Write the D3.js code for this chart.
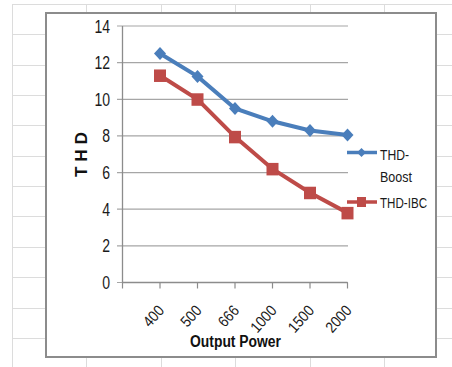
<!DOCTYPE html>
<html><head><meta charset="utf-8">
<script src="https://cdn.jsdelivr.net/npm/d3@7"></script>
<style>body{margin:0;background:#fff;}svg{display:block;}text{font-family:"Liberation Sans",Arial,sans-serif;}</style>
</head><body>
<svg id="c" width="452" height="367"></svg>
<script>
const categories = ["400","500","666","1000","1500","2000"];
const boost = [12.5, 11.25, 9.5, 8.8, 8.3, 8.05];
const ibc = [11.3, 10.0, 7.95, 6.2, 4.9, 3.8];
const yTicks = [0,2,4,6,8,10,12,14];
const seriesNames = ["THD-Boost","THD-IBC"];
const xTitle = "Output Power";
const yTitle = "T H D";

const svg = d3.select("#c");
const W = 452, H = 367;

// spreadsheet background grid
const bg = svg.append("g").attr("stroke","#dcdcdc").attr("stroke-width",1);
d3.range(6).forEach(i=>{
  const x = Math.round(12 + i*74.4)+0.5;
  bg.append("line").attr("x1",x).attr("x2",x).attr("y1",4).attr("y2",H);
});
d3.range(12).forEach(i=>{
  const y = Math.round(4 + i*30.35)+0.5;
  bg.append("line").attr("x1",12).attr("x2",W).attr("y1",y).attr("y2",y);
});

// chart area
svg.append("rect").attr("x",46).attr("y",13).attr("width",390).attr("height",344)
  .attr("fill","#fff").attr("stroke","#8c8c8c").attr("stroke-width",2);

const x = d3.scaleLinear().domain([0, categories.length]).range([122.5, 347.5]);
const y = d3.scaleLinear().domain([0,14]).range([282.5, 26]);

// gridlines + y ticks
const grid = svg.append("g");
yTicks.forEach(t=>{
  grid.append("line").attr("x1",117).attr("x2",348).attr("y1",y(t)).attr("y2",y(t))
    .attr("stroke","#a6a6a6").attr("stroke-width",1.2);
  grid.append("text").attr("x",110).attr("y",y(t)+6.5).attr("text-anchor","end")
    .attr("font-size",18).attr("fill","#1a1a1a")
    .attr("textLength",String(t).length*7.8).attr("lengthAdjust","spacingAndGlyphs").text(t);
});
// y axis line
svg.append("line").attr("x1",x(0)).attr("x2",x(0)).attr("y1",y(14)).attr("y2",y(0))
  .attr("stroke","#8c8c8c").attr("stroke-width",1.3);
// x axis line
svg.append("line").attr("x1",x(0)).attr("x2",x(categories.length)).attr("y1",y(0)).attr("y2",y(0))
  .attr("stroke","#8c8c8c").attr("stroke-width",1.3);
d3.range(categories.length+1).forEach(i=>{
  svg.append("line").attr("x1",x(i)).attr("x2",x(i)).attr("y1",y(0)).attr("y2",y(0)+6)
    .attr("stroke","#8c8c8c").attr("stroke-width",1.2);
});
// x tick labels
categories.forEach((c,i)=>{
  svg.append("text").attr("transform",`translate(${x(i+1)+1},${y(0)+25}) rotate(-48)`)
    .attr("text-anchor","end").attr("dy","0.35em").attr("font-size",15.5).attr("fill","#1a1a1a")
    .attr("textLength",c.length*7.6).attr("lengthAdjust","spacingAndGlyphs").text(c);
});

// titles
svg.append("text").attr("transform","translate(87,154.5) rotate(-90)").attr("text-anchor","middle")
  .attr("font-size",17).attr("font-weight","bold").attr("fill","#111")
  .attr("textLength",45).attr("lengthAdjust","spacingAndGlyphs").text(yTitle);
svg.append("text").attr("x",235.5).attr("y",347).attr("text-anchor","middle")
  .attr("font-size",16).attr("font-weight","bold").attr("fill","#111")
  .attr("textLength",91).attr("lengthAdjust","spacingAndGlyphs").text(xTitle);

const blue = "#4a7ebb", red = "#be4b48";
const line = d3.line().x((d,i)=>x(i+1)).y(d=>y(d));
svg.append("path").datum(boost).attr("d",line).attr("fill","none").attr("stroke",blue).attr("stroke-width",4);
svg.append("path").datum(ibc).attr("d",line).attr("fill","none").attr("stroke",red).attr("stroke-width",4);

const diamond = (w,h)=>`M0,${-h/2}L${w/2},0L0,${h/2}L${-w/2},0Z`;
svg.append("g").selectAll("path").data(boost).join("path")
  .attr("transform",(d,i)=>`translate(${x(i+1)},${y(d)})`).attr("d",diamond(12,13)).attr("fill",blue);
svg.append("g").selectAll("rect").data(ibc).join("rect")
  .attr("x",(d,i)=>x(i+1)-6).attr("y",d=>y(d)-6).attr("width",12).attr("height",12.5).attr("fill",red);

// legend
const lg = svg.append("g");
lg.append("line").attr("x1",347).attr("x2",377).attr("y1",152.5).attr("y2",152.5).attr("stroke",blue).attr("stroke-width",3.5);
lg.append("path").attr("transform","translate(361.5,152.5)").attr("d",diamond(9,9)).attr("fill",blue);
lg.append("text").attr("x",380).attr("y",159.5).attr("font-size",15).attr("fill","#1a1a1a")
  .attr("textLength",29).attr("lengthAdjust","spacingAndGlyphs").text("THD-");
lg.append("text").attr("x",380).attr("y",181.5).attr("font-size",15).attr("fill","#1a1a1a")
  .attr("textLength",32).attr("lengthAdjust","spacingAndGlyphs").text("Boost");
lg.append("line").attr("x1",347).attr("x2",377).attr("y1",202).attr("y2",202).attr("stroke",red).attr("stroke-width",3.5);
lg.append("rect").attr("x",357).attr("y",197).attr("width",9).attr("height",10).attr("fill",red);
lg.append("text").attr("x",380).attr("y",207.5).attr("font-size",15).attr("fill","#1a1a1a")
  .attr("textLength",47).attr("lengthAdjust","spacingAndGlyphs").text("THD-IBC");
</script>
</body></html>
